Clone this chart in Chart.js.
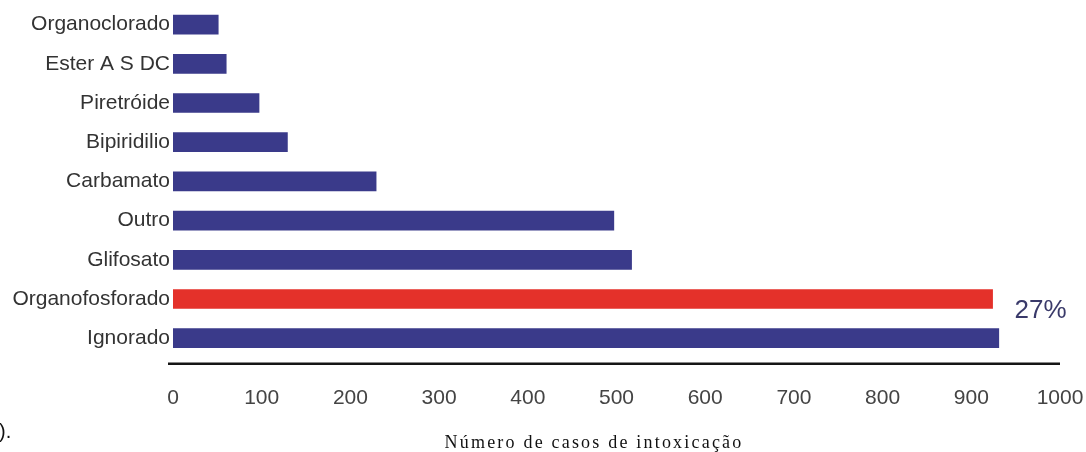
<!DOCTYPE html>
<html>
<head>
<meta charset="utf-8">
<script src="https://cdn.jsdelivr.net/npm/chart.js@4.4.1/dist/chart.umd.min.js"></script>
<style>
  html, body { margin: 0; padding: 0; background: #ffffff; }
  #wrap { width: 1086px; height: 452px; position: relative; }
</style>
</head>
<body>
<div id="wrap"><canvas id="chart" width="1086" height="452"></canvas></div>
<script>
// Agentes tóxicos, de cima para baixo
const categories = ['Organoclorado', 'Ester A S DC', 'Piretróide', 'Bipiridilio', 'Carbamato', 'Outro', 'Glifosato', 'Organofosforado', 'Ignorado'];
// Número de casos por agente
const casos = [51, 60, 97, 129, 229, 497, 517, 924, 931];
// Agente destacado em vermelho e a sua percentagem
const destaque = ['Organofosforado'];
const destaquePct = ['27%'];
// Marcas do eixo horizontal
const xTicks = [0, 100, 200, 300, 400, 500, 600, 700, 800, 900, 1000];
const xTitle = 'Número de casos de intoxicação';

const AZUL = '#3a3a8a';
const VERMELHO = '#e4312a';
const sans = "'Liberation Sans', Arial, sans-serif";

const barColors = categories.map(c => destaque.includes(c) ? VERMELHO : AZUL);

// Linha do eixo, título do eixo e percentagem junto à barra destacada
const extras = {
  id: 'extras',
  beforeDraw(chart) {
    const ctx = chart.ctx;
    ctx.save();
    ctx.fillStyle = '#ffffff';
    ctx.fillRect(0, 0, chart.width, chart.height);
    ctx.restore();
  },
  afterDraw(chart) {
    const ctx = chart.ctx;
    const area = chart.chartArea;
    ctx.save();
    // linha do eixo x
    ctx.strokeStyle = '#151515';
    ctx.lineWidth = 2.5;
    ctx.beginPath();
    ctx.moveTo(area.left - 5, area.bottom + 6);
    ctx.lineTo(area.right, area.bottom + 6);
    ctx.stroke();

    // percentagem
    const meta = chart.getDatasetMeta(0);
    destaque.forEach((name, k) => {
      const i = categories.indexOf(name);
      const bar = meta.data[i];
      ctx.font = "26px " + sans;
      ctx.fillStyle = '#3a3a6a';
      ctx.textAlign = 'left';
      ctx.textBaseline = 'middle';
      ctx.fillText(destaquePct[k], bar.x + 22, bar.y + 12);
    });

    // título do eixo x
    ctx.font = "18px 'Liberation Serif', 'Times New Roman', serif";
    ctx.fillStyle = '#111111';
    ctx.textAlign = 'center';
    ctx.textBaseline = 'alphabetic';
    if ('letterSpacing' in ctx) ctx.letterSpacing = '2.2px';
    ctx.fillText(xTitle, 594, 448);
    if ('letterSpacing' in ctx) ctx.letterSpacing = '0px';

    // fragmento de texto na margem esquerda
    ctx.font = "20px " + sans;
    ctx.textAlign = 'left';
    ctx.textBaseline = 'middle';
    ctx.fillText('0).', -12, 432);
    ctx.restore();
  }
};

new Chart(document.getElementById('chart'), {
  type: 'bar',
  data: {
    labels: categories,
    datasets: [{
      data: casos,
      backgroundColor: barColors,
      borderWidth: 0,
      barThickness: 19
    }]
  },
  options: {
    indexAxis: 'y',
    responsive: false,
    animation: false,
    layout: { padding: { top: 5, right: 26, bottom: 13, left: 8 } },
    plugins: {
      legend: { display: false },
      tooltip: { enabled: false }
    },
    scales: {
      y: {
        grid: { display: false, drawTicks: false },
        border: { display: false },
        ticks: {
          color: '#333333',
          font: { family: sans, size: 21 },
          padding: 3
        },
        afterFit(scale) {
          scale.width = 165;
          scale.paddingTop = 0;
          scale.paddingBottom = 0;
        }
      },
      x: {
        min: 0,
        max: 1000,
        grid: { display: false, drawTicks: false },
        border: { display: false },
        afterBuildTicks(scale) { scale.ticks = xTicks.map(v => ({ value: v })); },
        afterFit(scale) {
          scale.paddingLeft = 0;
          scale.paddingRight = 0;
        },
        ticks: {
          color: '#444444',
          font: { family: sans, size: 21 },
          padding: 28,
          maxRotation: 0,
          autoSkip: false,
          callback: v => String(v)
        }
      }
    }
  },
  plugins: [extras]
});
</script>
</body>
</html>
